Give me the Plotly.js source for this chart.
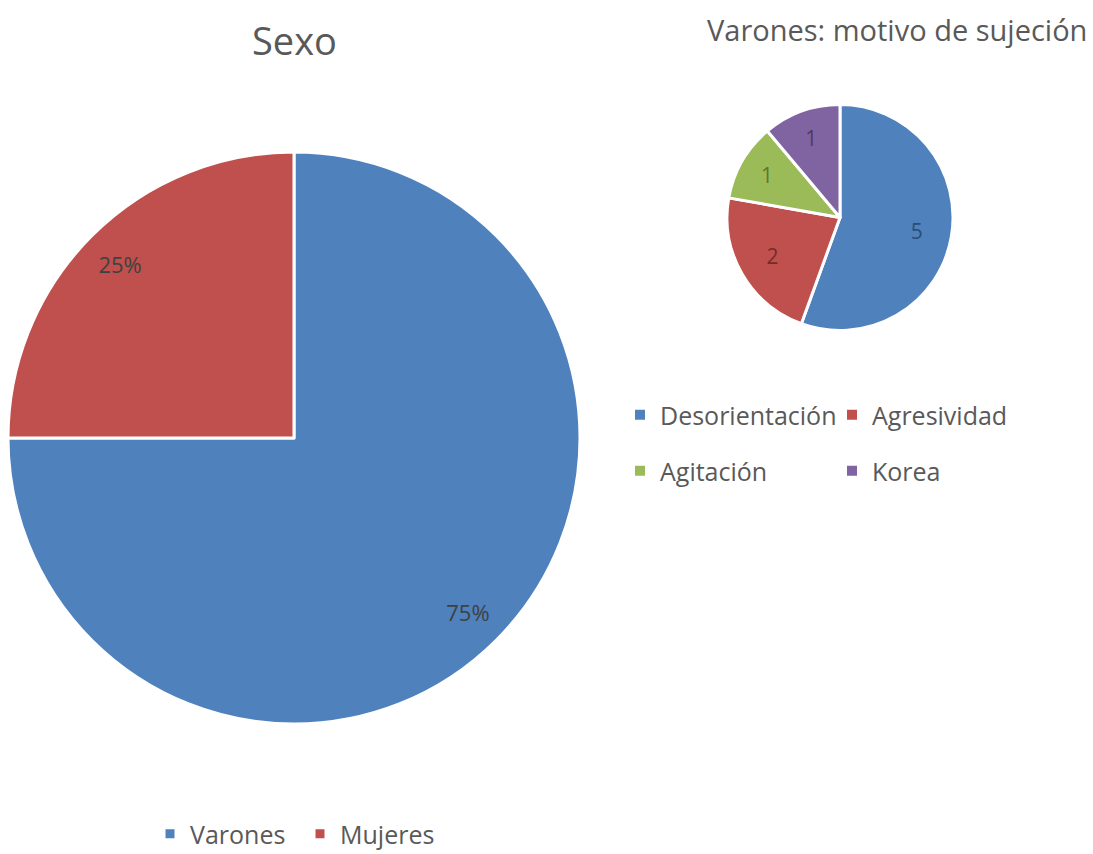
<!DOCTYPE html>
<html>
<head>
<meta charset="utf-8">
<script src="https://cdn.plot.ly/plotly-3.0.1.min.js"></script>
<style>html,body{margin:0;padding:0;background:#fff;}#chart{width:1093px;height:854px;}</style>
</head>
<body>
<div id="chart"></div>
<script>
// ---- Data ----
const sexoLabels = ["Varones", "Mujeres"];
const sexoValues = [75, 25];
const motivoLabels = ["Desorientación", "Agresividad", "Agitación", "Korea"];
const motivoValues = [5, 2, 1, 1];
const chartTitles = ["Sexo", "Varones: motivo de sujeción"];

// ---- Style ----
const FONT = "'Open Sans', 'Noto Sans', sans-serif";
const colors = ["#4F81BD", "#C0504D", "#9BBB59", "#8064A2"];
const darkColors = ["#2C4D75", "#772C2A", "#5F7530", "#4D3B62"];
const textGray = "#595959";
const clear = ["rgba(0,0,0,0)", "rgba(0,0,0,0)", "rgba(0,0,0,0)", "rgba(0,0,0,0)"];

const W = 1093, H = 854;
const px = (x0, x1) => [x0 / W, x1 / W];
const py = (top, bottom) => [1 - bottom / H, 1 - top / H];

const bigDomain = { x: px(8, 580), y: py(152, 724) };
const smallDomain = { x: px(727, 953), y: py(104, 331) };

const traces = [
  // Sexo pie (slices + legend)
  {
    type: "pie", labels: sexoLabels, values: sexoValues,
    sort: false, direction: "clockwise", rotation: 0,
    domain: bigDomain,
    marker: { colors: colors.slice(0, 2), line: { color: "#ffffff", width: 3 } },
    textinfo: "none",
    hoverinfo: "label+percent",
    legend: "legend", showlegend: true
  },
  // Sexo pie data labels (transparent ring, places the labels near the rim)
  {
    type: "pie", labels: sexoLabels, values: sexoValues,
    sort: false, direction: "clockwise", rotation: 0,
    domain: bigDomain, hole: 0.72,
    marker: { colors: clear.slice(0, 2), line: { width: 0 } },
    texttemplate: "%{percent:.0%}",
    textposition: "inside", insidetextorientation: "horizontal",
    textfont: { family: FONT, size: 22, color: "#404040" },
    hoverinfo: "skip", showlegend: false
  },
  // Motivo pie
  {
    type: "pie", labels: motivoLabels, values: motivoValues,
    sort: false, direction: "clockwise", rotation: 0,
    domain: smallDomain,
    marker: { colors: colors, line: { color: "#ffffff", width: 3 } },
    textinfo: "none",
    hoverinfo: "label+value",
    showlegend: false
  },
  {
    type: "pie", labels: motivoLabels, values: motivoValues,
    sort: false, direction: "clockwise", rotation: 0,
    domain: smallDomain, hole: 0.38,
    marker: { colors: clear, line: { width: 0 } },
    textinfo: "value",
    textposition: "inside", insidetextorientation: "horizontal",
    textfont: { family: FONT, size: 21, color: darkColors },
    hoverinfo: "skip", showlegend: false
  }
];

// Legend entries for the motivo pie, two per row (legend2 = row 1, legend3 = row 2)
motivoLabels.forEach((lab, i) => {
  traces.push({
    type: "scatter", mode: "markers", x: [null], y: [null],
    name: lab,
    marker: { color: colors[i], symbol: "square", size: 10 },
    legend: i < 2 ? "legend2" : "legend3",
    showlegend: true, hoverinfo: "skip"
  });
});

const legendFont = { family: FONT, size: 25, color: textGray };

const layout = {
  width: W, height: H,
  margin: { l: 0, r: 0, t: 0, b: 0, autoexpand: false },
  paper_bgcolor: "#ffffff",
  plot_bgcolor: "rgba(0,0,0,0)",
  font: { family: FONT, color: textGray },
  xaxis: { visible: false, fixedrange: true },
  yaxis: { visible: false, fixedrange: true },
  legend: {
    orientation: "h", x: 150 / W, xanchor: "left", y: 1 - 811 / H, yanchor: "top",
    entrywidth: 105, entrywidthmode: "pixels",
    font: legendFont, itemclick: false, itemdoubleclick: false
  },
  legend2: {
    orientation: "h", x: 620 / W, xanchor: "left", y: 1 - 392 / H, yanchor: "top",
    entrywidth: 167, entrywidthmode: "pixels",
    font: legendFont, itemclick: false, itemdoubleclick: false
  },
  legend3: {
    orientation: "h", x: 620 / W, xanchor: "left", y: 1 - 448 / H, yanchor: "top",
    entrywidth: 167, entrywidthmode: "pixels",
    font: legendFont, itemclick: false, itemdoubleclick: false
  },
  annotations: [
    { text: chartTitles[0], x: 294 / W, y: 1 - 40 / H, xref: "paper", yref: "paper",
      xanchor: "center", yanchor: "middle", showarrow: false,
      font: { family: FONT, size: 38, color: textGray } },
    { text: chartTitles[1], x: 897 / W, y: 1 - 29 / H, xref: "paper", yref: "paper",
      xanchor: "center", yanchor: "middle", showarrow: false,
      font: { family: FONT, size: 29, color: textGray } }
  ]
};

Plotly.newPlot("chart", traces, layout, { displayModeBar: false });
</script>
</body>
</html>
